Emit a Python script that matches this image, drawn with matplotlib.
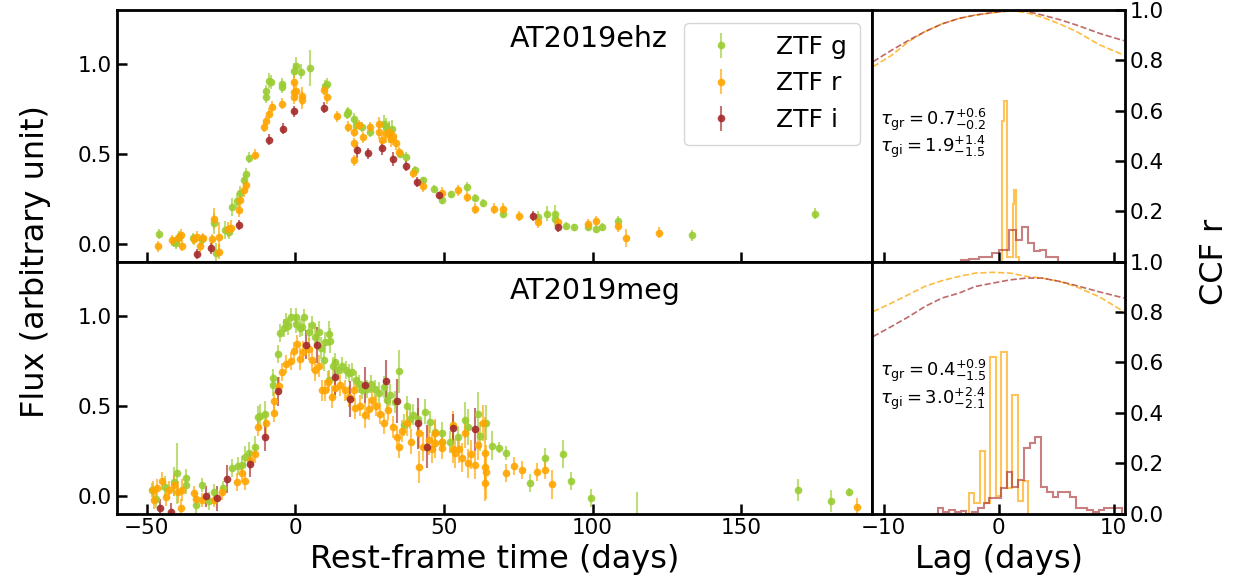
"""
ZTF g/r/i light curves of two TDEs with ICCF lag panels.
"""

import numpy as np
import matplotlib
matplotlib.use('Agg')
from matplotlib import pyplot

FIGSIZE_WIDTH_HEIGHT_INCHES = (12.37, 5.82)
PLOT_DOTS_PER_INCH = 100
COLOR_G = 'yellowgreen'
COLOR_R = 'orange'
COLOR_I = 'brown'

# ---- AT2019ehz light curve ----
ehz_g_t = [-45.8, -40.8, -40.3, -39.1, -34.5, -31.3, -27.4, -26.6, -23.5, -22.3, -21.2, -19.6,
           -18.5, -17.4, -16.5, -15.6, -9.8, -9.8, -8.7, -8.3, -4.5, -4.5, -0.5, 0.2, 2.0, 4.8,
           10.1, 10.5, 17.3, 17.8, 19.6, 20.5, 22.4, 25.2, 29.7, 30.5, 31.5, 32.5, 35.2, 37.1,
           40.1, 42.8, 46.5, 49.2, 52.2, 57.6, 60.4, 63.2, 69.7, 81.7, 84.5, 87.2, 87.4, 90.9,
           93.8, 98.5, 101.2, 103.2, 108.5, 133.5, 174.7]
ehz_g_f = [0.054, 0.01, 0.002, 0.04, 0.03, 0.024, 0.113, -0.053, 0.076, 0.066, 0.205, 0.24,
           0.28, 0.353, 0.39, 0.479, 0.852, 0.815, 0.907, 0.9, 0.89, 0.87, 0.963, 0.99, 0.957,
           0.978, 0.88, 0.89, 0.723, 0.73, 0.695, 0.66, 0.649, 0.621, 0.667, 0.65, 0.62, 0.64,
           0.501, 0.482, 0.412, 0.353, 0.307, 0.242, 0.274, 0.316, 0.255, 0.227, 0.168, 0.15,
           0.168, 0.14, 0.168, 0.1, 0.091, 0.094, 0.081, 0.094, 0.126, 0.047, 0.168]
ehz_g_e = [0.03, 0.03, 0.03, 0.03, 0.03, 0.03, 0.06, 0.06, 0.05, 0.04, 0.05, 0.04,
           0.04, 0.03, 0.03, 0.03, 0.03, 0.03, 0.04, 0.04, 0.03, 0.03, 0.04, 0.05, 0.04,
           0.10, 0.03, 0.03, 0.03, 0.03, 0.03, 0.03, 0.03, 0.03, 0.05, 0.05, 0.06, 0.05,
           0.02, 0.03, 0.02, 0.02, 0.02, 0.02, 0.02, 0.03, 0.02, 0.02, 0.02, 0.03,
           0.04, 0.04, 0.05, 0.02, 0.02, 0.02, 0.02, 0.02, 0.03, 0.03, 0.03]

ehz_r_t = [-46.1, -41.4, -39.5, -38.5, -38.2, -34.1, -33.2, -32.2, -31.0, -28.0, -27.4, -25.7,
           -25.7, -22.5, -21.8, -19.0, -18.5, -17.4, -16.5, -13.6, -10.6, -9.8, -8.9, -8.0,
           -4.5, -0.5, -0.5, -0.5, 0.3, 2.2, 2.2, 9.5, 10.6, 14.1, 17.7, 19.6, 19.6, 19.6,
           21.3, 22.6, 25.2, 28.0, 28.0, 29.1, 30.5, 31.5, 32.3, 33.0, 33.8, 34.9, 39.7, 42.8,
           49.2, 54.8, 57.6, 60.4, 66.9, 69.7, 75.3, 81.7, 88.2, 98.5, 101.2, 108.5, 111.3, 122.5]
ehz_r_f = [-0.013, 0.02, 0.03, 0.05, -0.01, 0.024, 0.04, -0.013, 0.03, 0.024, 0.14, 0.04,
           -0.044, 0.08, 0.09, 0.187, 0.242, 0.298, 0.325, 0.496, 0.649, 0.682, 0.723, 0.763,
           0.778, 0.898, 0.843, 0.815, 0.85, 0.824, 0.797, 0.856, 0.815, 0.708, 0.652, 0.621,
           0.56, 0.464, 0.66, 0.593, 0.649, 0.667, 0.62, 0.575, 0.61, 0.62, 0.58, 0.6, 0.56,
           0.51, 0.394, 0.32, 0.283, 0.298, 0.26, 0.196, 0.196, 0.196, 0.155, 0.119, 0.119,
           0.109, 0.126, 0.098, 0.03, 0.061]
ehz_r_e = [0.03, 0.03, 0.03, 0.03, 0.03, 0.03, 0.03, 0.03, 0.03, 0.03, 0.06, 0.08,
           0.04, 0.04, 0.04, 0.04, 0.04, 0.04, 0.03, 0.03, 0.03, 0.03, 0.03, 0.03,
           0.03, 0.04, 0.05, 0.04, 0.05, 0.05, 0.05, 0.03, 0.04, 0.03, 0.03, 0.03,
           0.03, 0.03, 0.03, 0.03, 0.03, 0.04, 0.04, 0.03, 0.05, 0.05, 0.04, 0.05, 0.04,
           0.03, 0.03, 0.03, 0.03, 0.03, 0.03, 0.03, 0.03, 0.03, 0.03, 0.03, 0.03,
           0.03, 0.03, 0.03, 0.05, 0.03]

ehz_i_t = [-33.0, -28.5, -19.0, -8.9, -4.2, -0.5, 9.6, 20.7, 24.4, 29.1, 32.8, 37.1, 40.9,
           48.4, 79.8, 88.2]
ehz_i_f = [-0.057, -0.026, 0.104, 0.579, 0.64, 0.737, 0.756, 0.519, 0.504, 0.534, 0.47,
           0.432, 0.344, 0.27, 0.154, 0.094]
ehz_i_e = [0.03, 0.03, 0.03, 0.03, 0.03, 0.03, 0.03, 0.04, 0.03, 0.04, 0.04, 0.03, 0.03,
           0.02, 0.03, 0.03]

# ---- AT2019meg light curve ----
meg_g_t = [-48.1, -47.0, -44.0, -40.8, -39.7, -36.9, -36.9, -33.3, -31.5, -28.9, -27.4, -24.5,
           -21.2, -19.2, -18.0, -16.8, -15.6, -13.6, -12.5, -11.8, -10.1, -7.6, -7.5, -5.8,
           -5.0, -3.8, -3.1, -2.6, -1.3, 0.3, 0.2, 1.5, 2.2, 2.8, 4.5, 5.5, 6.5, 7.8, 8.5, 9.5,
           10.1, 11.2, 11.8, 11.2, 12.5, 13.4, 14.5, 15.7, 17.0, 18.2, 19.0, 20.5, 21.5, 22.4,
           24.1, 25.5, 26.8, 28.0, 29.7, 30.8, 32.0, 33.5, 34.9, 36.4, 37.5, 38.6, 39.5, 41.4,
           43.6, 45.3, 47.0, 49.5, 49.5, 52.0, 54.8, 57.0, 58.0, 61.3, 62.0, 64.0, 66.0, 68.5,
           71.0, 78.9, 83.9, 90.1, 92.6, 99.6, 115.0, 169.1, 180.3, 186.2]
meg_g_f = [0.032, -0.02, 0.05, 0.077, 0.124, 0.096, 0.06, -0.05, 0.059, -0.033, 0.022, 0.04,
           0.152, 0.166, 0.17, 0.216, 0.235, 0.271, 0.437, 0.44, 0.456, 0.613, 0.655, 0.788,
           0.904, 0.93, 0.963, 0.94, 0.994, 0.994, 0.955, 0.93, 0.935, 0.99, 0.908, 0.95, 0.88,
           0.908, 0.82, 0.751, 0.852, 0.899, 0.862, 0.64, 0.72, 0.742, 0.7, 0.723, 0.7, 0.68,
           0.686, 0.64, 0.62, 0.585, 0.594, 0.62, 0.594, 0.57, 0.603, 0.53, 0.56, 0.52, 0.69,
           0.391, 0.496, 0.428, 0.45, 0.428, 0.465, 0.41, 0.354, 0.349, 0.3, 0.299, 0.327,
           0.419, 0.38, 0.456, 0.33, 0.406, 0.277, 0.266, 0.235, 0.072, 0.207, 0.231, 0.083,
           -0.014, -0.13, 0.032, -0.029, 0.022]
meg_g_e = [0.04, 0.05, 0.06, 0.08, 0.17, 0.05, 0.05, 0.05, 0.04, 0.05, 0.04, 0.04,
           0.05, 0.05, 0.05, 0.06, 0.06, 0.06, 0.06, 0.07, 0.07, 0.06, 0.05, 0.05,
           0.05, 0.05, 0.05, 0.05, 0.05, 0.05, 0.05, 0.05, 0.05, 0.05, 0.05, 0.05, 0.06,
           0.06, 0.06, 0.06, 0.06, 0.07, 0.07, 0.06, 0.05, 0.05, 0.05, 0.05, 0.05, 0.05,
           0.05, 0.05, 0.05, 0.05, 0.05, 0.05, 0.05, 0.06, 0.06, 0.06, 0.06, 0.06, 0.12,
           0.06, 0.06, 0.06, 0.06, 0.06, 0.07, 0.06, 0.06, 0.06, 0.05, 0.06, 0.06,
           0.10, 0.10, 0.12, 0.08, 0.10, 0.08, 0.03, 0.04, 0.05, 0.06, 0.08, 0.05,
           0.05, 0.15, 0.06, 0.06, 0.02]

meg_r_t = [-47.5, -48.0, -46.4, -44.7, -43.6, -42.5, -40.8, -39.5, -38.3, -38.6, -34.1, -33.5,
           -31.5, -27.4, -24.8, -19.6, -17.9, -17.0, -15.1, -13.6, -12.5, -9.8, -7.3, -7.3,
           -5.6, -4.5, -3.1, -1.5, -0.5, 0.6, 1.7, 2.5, 4.5, 5.6, 6.7, 7.8, 9.0, 9.9, 11.0,
           12.3, 13.5, 15.1, 16.8, 18.0, 19.6, 20.1, 21.8, 23.5, 24.8, 25.7, 27.0, 28.5, 29.7,
           31.3, 33.0, 34.1, 34.9, 36.0, 37.5, 39.0, 41.6, 41.6, 43.1, 44.8, 46.0, 47.0, 47.0,
           49.5, 49.5, 53.2, 53.2, 53.7, 55.0, 56.0, 57.0, 58.0, 59.0, 60.4, 61.5, 63.2, 63.8,
           63.9, 64.2, 63.7, 71.0, 73.6, 76.3, 81.4, 83.9, 86.5, 188.8]
meg_r_f = [-0.024, 0.03, 0.041, 0.081, -0.006, 0.03, 0.059, 0.02, 0.032, -0.07, 0.013, -0.02,
           -0.024, -0.024, 0.017, 0.077, 0.124, 0.08, 0.198, 0.231, 0.379, 0.404, 0.459, 0.526,
           0.607, 0.686, 0.733, 0.75, 0.806, 0.843, 0.76, 0.8, 0.816, 0.751, 0.696, 0.72, 0.585,
           0.585, 0.63, 0.548, 0.6, 0.613, 0.585, 0.55, 0.585, 0.484, 0.5, 0.447, 0.48, 0.53,
           0.5, 0.456, 0.401, 0.474, 0.382, 0.327, 0.271, 0.36, 0.401, 0.3, 0.345, 0.16, 0.271,
           0.308, 0.26, 0.345, 0.29, 0.262, 0.3, 0.391, 0.26, 0.235, 0.26, 0.21, 0.345, 0.179,
           0.23, 0.17, 0.28, 0.404, 0.16, 0.069, 0.13, 0.238, 0.124, 0.166, 0.142, 0.133, 0.142,
           0.063, -0.064]
meg_r_e = [0.05, 0.05, 0.05, 0.05, 0.05, 0.05, 0.06, 0.06, 0.06, 0.05, 0.04, 0.04,
           0.04, 0.04, 0.04, 0.05, 0.05, 0.05, 0.05, 0.05, 0.05, 0.06, 0.05, 0.05,
           0.05, 0.05, 0.05, 0.05, 0.05, 0.05, 0.06, 0.06, 0.06, 0.06, 0.06, 0.06, 0.06,
           0.06, 0.06, 0.06, 0.06, 0.06, 0.06, 0.06, 0.06, 0.06, 0.06, 0.07, 0.06, 0.06,
           0.06, 0.06, 0.06, 0.06, 0.06, 0.06, 0.06, 0.06, 0.07, 0.07, 0.08, 0.09, 0.08,
           0.08, 0.08, 0.08, 0.08, 0.06, 0.06, 0.08, 0.08, 0.08, 0.08, 0.08, 0.08, 0.08,
           0.08, 0.08, 0.08, 0.10, 0.08, 0.10, 0.15, 0.20, 0.05, 0.05, 0.05, 0.05, 0.05,
           0.08, 0.05]

meg_i_t = [-45.6, -41.9, -30.0, -26.3, -22.9, -15.4, -10.1, -5.8, 3.6, 7.3, 13.2, 18.5, 23.5,
           30.5, 34.1, 41.1, 44.4, 53.2, 60.6]
meg_i_f = [-0.07, -0.094, -0.005, -0.015, 0.092, 0.174, 0.327, 0.579, 0.838, 0.838, 0.659,
           0.539, 0.617, 0.636, 0.526, 0.401, 0.271, 0.373, 0.369]
meg_i_e = [0.05, 0.05, 0.06, 0.07, 0.08, 0.07, 0.08, 0.08, 0.08, 0.10, 0.10, 0.10, 0.10,
           0.12, 0.12, 0.14, 0.12, 0.08, 0.12]

# ---- cross-correlation functions ----
ccf_lag = [-10.9, -9.3, -7.8, -6.4, -4.9, -3.4, -2.0, -0.5, 1.0, 2.4, 3.8, 5.3, 6.8, 8.8, 10.9]
ehz_ccf_gr = [0.775, 0.82, 0.875, 0.914, 0.945, 0.967, 0.98, 0.989, 0.997, 0.99, 0.971, 0.945,
              0.914, 0.861, 0.821]
ehz_ccf_gi = [0.795, 0.84, 0.88, 0.914, 0.945, 0.967, 0.98, 0.99, 0.997, 0.995, 0.98, 0.962,
              0.94, 0.907, 0.878]
meg_ccf_gr = [0.802, 0.836, 0.87, 0.902, 0.925, 0.942, 0.955, 0.958, 0.955, 0.942, 0.935, 0.922,
              0.9, 0.86, 0.802]
meg_ccf_gi = [0.703, 0.743, 0.782, 0.822, 0.856, 0.876, 0.902, 0.915, 0.928, 0.935, 0.935, 0.922,
              0.905, 0.88, 0.856]

# ---- lag distributions (step histograms) ----
ehz_hist_gr_edges = [0.0, 0.29, 0.44, 0.70, 1.22, 1.31, 1.49, 1.80]
ehz_hist_gr = [0.0, 0.56, 0.64, 0.02, 0.23, 0.285, 0.02]
ehz_hist_gi_edges = [-3.3, -2.56, -1.69, -0.58, 0.0, 0.93, 1.51, 2.04, 2.53, 3.12, 3.61, 4.14, 5.21]
ehz_hist_gi = [0.005, 0.012, 0.02, 0.034, 0.045, 0.126, 0.087, 0.14, 0.074, 0.041, 0.045, 0.02]

meg_hist_gr_edges = [-2.6, -2.1, -1.6, -1.2, -0.7, -0.2, 0.2, 0.7, 1.2, 1.7, 2.1, 2.6]
meg_hist_gr = [0.08, 0.04, 0.25, 0.04, 0.62, 0.07, 0.64, 0.10, 0.47, 0.05, 0.13]
meg_hist_gi_edges = [-5.3, -4.8, -4.3, -3.8, -3.3, -2.8, -2.3, -1.8, -1.3, -0.8, -0.3, 0.2, 0.7,
                     1.2, 1.7, 2.2, 2.7, 3.2, 3.7, 4.2, 4.7, 5.2, 5.7, 6.2, 6.7, 7.2, 7.7, 8.2,
                     8.7, 9.2, 9.7, 10.2, 10.7]
meg_hist_gi = [0.02, 0.007, 0.013, 0.007, 0.008, 0.0, 0.007, 0.02, 0.04, 0.06, 0.06, 0.10, 0.166,
               0.107, 0.133, 0.26, 0.28, 0.305, 0.107, 0.087, 0.067, 0.087, 0.087, 0.065, 0.02,
               0.02, 0.013, 0.007, 0.013, 0.02, 0.02, 0.02]

names = ['AT2019ehz', 'AT2019meg']
lag_labels = [
    (r'$\tau_{\rm gr}=0.7^{+0.6}_{-0.2}$', r'$\tau_{\rm gi}=1.9^{+1.4}_{-1.5}$'),
    (r'$\tau_{\rm gr}=0.4^{+0.9}_{-1.5}$', r'$\tau_{\rm gi}=3.0^{+2.4}_{-2.1}$'),
]


def style_axis(ax):
    for spine in ax.spines.values():
        spine.set_linewidth(2)
    ax.tick_params(direction='in', length=7, width=1.8, labelsize=15.5)


def plot_light_curve(ax, bands):
    for t, f, e, color, label in bands:
        ecolor = matplotlib.colors.to_rgba(color, 0.65)
        mcolor = matplotlib.colors.to_rgba(color, 0.9)
        ax.errorbar(t, f, yerr=e, fmt='o', ms=5.5, color=mcolor, ecolor=ecolor,
                    elinewidth=1.5, mec='none', label=label)


def main() -> None:
    figure = pyplot.figure(figsize=FIGSIZE_WIDTH_HEIGHT_INCHES)
    grid = figure.add_gridspec(2, 2, width_ratios=[755, 253], hspace=0, wspace=0,
                               left=117 / 1237, right=1125 / 1237,
                               top=1 - 10 / 582, bottom=1 - 513.5 / 582)

    lc_data = [
        [(ehz_g_t, ehz_g_f, ehz_g_e, COLOR_G, 'ZTF g'),
         (ehz_r_t, ehz_r_f, ehz_r_e, COLOR_R, 'ZTF r'),
         (ehz_i_t, ehz_i_f, ehz_i_e, COLOR_I, 'ZTF i')],
        [(meg_g_t, meg_g_f, meg_g_e, COLOR_G, 'ZTF g'),
         (meg_r_t, meg_r_f, meg_r_e, COLOR_R, 'ZTF r'),
         (meg_i_t, meg_i_f, meg_i_e, COLOR_I, 'ZTF i')],
    ]
    ccf_data = [(ehz_ccf_gr, ehz_ccf_gi), (meg_ccf_gr, meg_ccf_gi)]
    hist_data = [
        (ehz_hist_gr, ehz_hist_gr_edges, ehz_hist_gi, ehz_hist_gi_edges),
        (meg_hist_gr, meg_hist_gr_edges, meg_hist_gi, meg_hist_gi_edges),
    ]

    for row in range(2):
        ax_lc = figure.add_subplot(grid[row, 0])
        ax_cc = figure.add_subplot(grid[row, 1])

        plot_light_curve(ax_lc, lc_data[row])
        ax_lc.set_xlim(-60, 194)
        ax_lc.set_ylim(-0.1, 1.3)
        ax_lc.set_xticks([-50, 0, 50, 100, 150])
        ax_lc.set_yticks([0.0, 0.5, 1.0])
        ax_lc.text(0.52, 0.885, names[row], transform=ax_lc.transAxes,
                   fontsize=20.5, ha='left', va='center')
        style_axis(ax_lc)

        gr, gi = ccf_data[row]
        ax_cc.plot(ccf_lag, gr, '--', color=COLOR_R, alpha=0.75, lw=1.2)
        ax_cc.plot(ccf_lag, gi, '--', color=COLOR_I, alpha=0.7, lw=1.2)
        h_gr, e_gr, h_gi, e_gi = hist_data[row]
        ax_cc.stairs(h_gr, e_gr, color=COLOR_R, alpha=0.65, lw=1.5)
        ax_cc.stairs(h_gi, e_gi, color=COLOR_I, alpha=0.6, lw=1.5)
        ax_cc.set_xlim(-11, 11)
        ax_cc.set_ylim(0, 1.0)
        ax_cc.set_xticks([-10, 0, 10])
        ax_cc.yaxis.tick_right()
        ax_cc.set_yticks([0.0, 0.2, 0.4, 0.6, 0.8, 1.0])
        style_axis(ax_cc)
        ax_cc.tick_params(axis='y', which='both', left=False, right=True)
        tau_gr, tau_gi = lag_labels[row]
        ax_cc.text(0.03, 0.565, tau_gr, transform=ax_cc.transAxes, fontsize=13,
                   ha='left', va='center')
        ax_cc.text(0.03, 0.455, tau_gi, transform=ax_cc.transAxes, fontsize=13,
                   ha='left', va='center')

        if row == 0:
            ax_lc.tick_params(labelbottom=False)
            ax_cc.tick_params(labelbottom=False)
            ax_cc.set_yticklabels(['', '0.2', '0.4', '0.6', '0.8', '1.0'])
            ax_lc.legend(loc='upper right', fontsize=18, handletextpad=1.2,
                         borderpad=0.5, labelspacing=0.5)
        else:
            ax_lc.set_xlabel('Rest-frame time (days)', fontsize=23)
            ax_cc.set_xlabel('Lag (days)', fontsize=23)

    figure.text(0.029, 0.55, 'Flux (arbitrary unit)', rotation=90, fontsize=23,
                ha='center', va='center')
    figure.text(0.982, 0.55, 'CCF r', rotation=90, fontsize=23,
                ha='center', va='center')

    figure.savefig('out.png', dpi=PLOT_DOTS_PER_INCH)


if __name__ == '__main__':
    main()
